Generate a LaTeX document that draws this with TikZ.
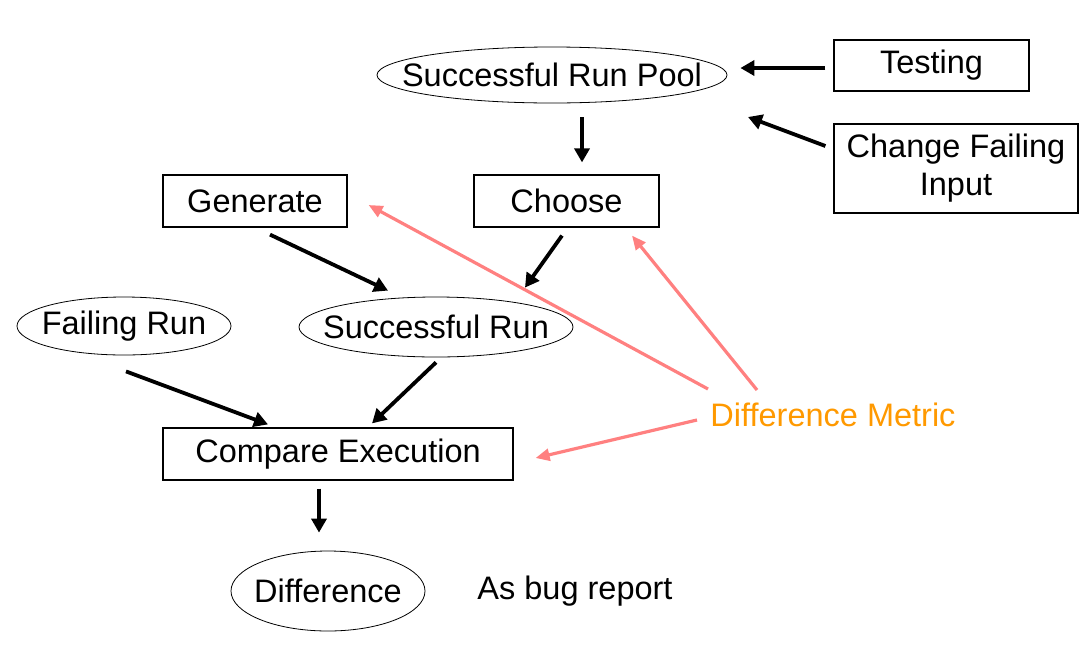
\documentclass[tikz,border=0pt]{standalone}
\usepackage{fontspec}
\setmainfont{Liberation Sans}
\usetikzlibrary{shapes.geometric,arrows.meta}
\definecolor{pinkarrow}{RGB}{255,128,128}
\definecolor{metricorange}{RGB}{255,153,0}
\newcommand{\zerow}[1]{\makebox[0pt]{#1}}
\begin{document}
\begin{tikzpicture}[x=1pt,y=-1pt,
  every node/.style={font=\fontsize{32.5}{38}\selectfont, inner sep=0pt},
  boxnode/.style={draw, line width=1.2pt, rectangle},
  ovalnode/.style={draw, line width=0.8pt, ellipse},
  flow/.style={line width=3.8pt, -{Triangle[length=14pt,width=15pt]}},
  metricflow/.style={pinkarrow, line width=3.2pt, -{Triangle[length=14pt,width=12pt]}}]
\useasboundingbox (0,0) rectangle (1082,646);
\node[ovalnode, minimum width=350pt, minimum height=56pt] (pool) at (552,75) {\zerow{Successful Run Pool}};
\node[boxnode, minimum width=195pt, minimum height=51pt] (testing) at (931.5,65.5) {Testing};
\node[boxnode, minimum width=244pt, minimum height=89pt, align=center] (change) at (956,168.5) {Change Failing\\Input};
\node[boxnode, minimum width=185pt, minimum height=52pt] (choose) at (566.5,201) {Choose};
\node[boxnode, minimum width=184pt, minimum height=52pt] (generate) at (255,201) {Generate};
\node[ovalnode, minimum width=214pt, minimum height=58pt] (failing) at (124,326) {\zerow{Failing Run}};
\node[ovalnode, minimum width=274pt, minimum height=60pt] (srun) at (436,327) {\zerow{Successful Run}};
\node[boxnode, minimum width=350pt, minimum height=52pt] (compare) at (338,454) {Compare Execution};
\node[ovalnode, minimum width=194pt, minimum height=80pt] (diff) at (328,591) {\zerow{Difference}};
\node (bug) at (575,591) {As bug report};
\node[text=metricorange] (metric) at (833,415) {Difference Metric};

\draw[flow] ([shift={(-8,2.5)}]testing.west) -- ([shift={(13,-7)}]pool.east);
\draw[flow] ([shift={(-8,-22.5)}]change.west) -- ([shift={(196,42)}]pool.center);
\draw[flow] ([shift={(30,42)}]pool.center) -- ([shift={(15.5,-12)}]choose.north);
\draw[flow] ([shift={(15,7)}]generate.south) -- ([shift={(-48,-6)}]srun.north);
\draw[flow] ([shift={(-4.5,8)}]choose.south) -- ([shift={(89,-9)}]srun.north);
\draw[flow] ([shift={(2,16)}]failing.south) -- ([shift={(-70,-3)}]compare.north);
\draw[flow] ([shift={(0,5)}]srun.south) -- ([shift={(34,-4)}]compare.north);
\draw[flow] ([shift={(-19,8)}]compare.south) -- ([shift={(-9,-18)}]diff.north);

\draw[metricflow] ([shift={(-125,-26)}]metric.center) -- ([shift={(21,4)}]generate.east);
\draw[metricflow] ([shift={(-76,-25)}]metric.center) -- ([shift={(65.5,8)}]choose.south);
\draw[metricflow] ([shift={(-136,5)}]metric.center) -- ([shift={(22,4)}]compare.east);
\end{tikzpicture}
\end{document}
